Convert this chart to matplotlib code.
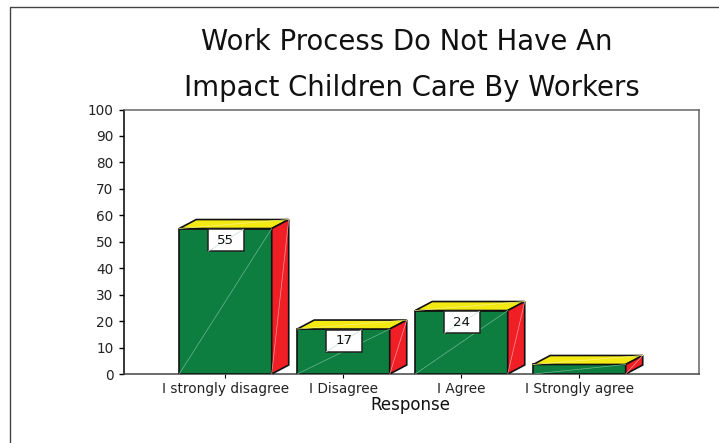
import matplotlib
matplotlib.use("Agg")
import matplotlib.pyplot as plt
from matplotlib.patches import Polygon, Rectangle
from matplotlib.lines import Line2D

categories = ["I strongly disagree", "I Disagree", "I Agree", "I Strongly agree"]
values = [55, 17, 24, 3.6]
labels = ["55", "17", "24", None]
yticks = list(range(0, 101, 10))
title_lines = ["Work Process Do Not Have An", "Impact Children Care By Workers"]
xlabel = "Response"

W, H = 719, 443
plt.rcParams['font.family'] = ['DejaVu Sans']
fig = plt.figure(figsize=(W/100, H/100), dpi=100, facecolor='white')

# outer frame: only top and left edges are inside the picture
fig.add_artist(Line2D([9.5/W, 9.5/W, 1], [0, 1-6.5/H, 1-6.5/H], transform=fig.transFigure,
                      color='#444444', lw=1.0))

L, R, T, B = 124, 699, 109.5, 374
ax = fig.add_axes([L/W, 1-B/H, (R-L)/W, (B-T)/H])
ax.set_xlim(-0.86, 4.013)
ax.set_ylim(0, 100)
for s, c in (('top', '#666666'), ('right', '#666666'), ('bottom', '#444444'), ('left', '#000000')):
    ax.spines[s].set_color(c)
    ax.spines[s].set_linewidth(1.1)
ax.set_yticks(yticks)
ax.set_xticks(range(len(categories)))
ax.set_xticklabels(categories, fontsize=9.8)
ax.tick_params(axis='y', labelsize=9.8, length=3.6, width=1, pad=4, labelcolor='#222222')
ax.tick_params(axis='x', length=2.8, width=0.8, pad=3, labelcolor='#222222')

WIDTH = 0.784
DX, DY = 17/118, 3.4
GREEN, YELLOW, RED = '#0e7d40', '#f3ea14', '#f01f26'
EDGE = '#111111'
for i, v in enumerate(values):
    x0, x1 = i - WIDTH/2, i + WIDTH/2
    ax.add_patch(Polygon([(x0, 0), (x1, 0), (x1, v), (x0, v)], fc=GREEN, ec=EDGE, lw=1.2, zorder=3))
    ax.add_patch(Polygon([(x0, v), (x1, v), (x1+DX, v+DY), (x0+DX, v+DY)], fc=YELLOW, ec=EDGE, lw=1.2, zorder=3))
    ax.add_patch(Polygon([(x1, 0), (x1+DX, DY), (x1+DX, v+DY), (x1, v)], fc=RED, ec=EDGE, lw=1.2, zorder=3))
    ax.add_line(Line2D([x0, x1], [0, v], color='#6fb794', lw=0.5, zorder=4))
    ax.add_line(Line2D([x1, x1+DX], [0, v+DY], color='#f79a9a', lw=0.5, zorder=4))
    ax.add_line(Line2D([x0, x1+DX], [v, v+DY], color='#f8f27a', lw=0.5, zorder=4))
    if labels[i] is not None:
        bw, bh = 0.30, 8.3
        bx, by = i - bw/2 + 0.003, v - bh - 0.3
        ax.add_patch(Rectangle((bx, by), bw, bh, fc='white', ec='#222222', lw=1.1, zorder=5))
        ax.add_line(Line2D([bx, bx+bw], [by, by+bh], color='#c5e0d2', lw=0.5, zorder=5.5))
        ax.text(bx+bw/2, by+bh/2, labels[i], ha='center', va='center', fontsize=9.6, color='#111111', zorder=6)

fig.text(406.5/W, 1-42/H, title_lines[0], ha='center', va='center', fontsize=19.8, color='#111111')
fig.text(412/W, 1-88/H, title_lines[1], ha='center', va='center', fontsize=19.8, color='#111111')
fig.text(410/W, 1-405/H, xlabel, ha='center', va='center', fontsize=12, color='#111111')

fig.savefig('out.png', dpi=100)
